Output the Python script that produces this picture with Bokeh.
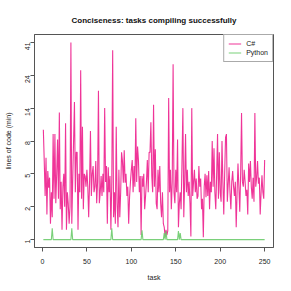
import math
import numpy as np
from bokeh.plotting import figure
from bokeh.models import FixedTicker, Range1d, Legend
from bokeh.embed import file_html
from bokeh.resources import INLINE

# ---- data ----
tick_labels = [1, 2, 5, 8, 14, 24, 41]
x_ticks = [0, 50, 100, 150, 200, 250]

csharp = [
    9.7, 6, 2.7, 6.3, 1.7, 5.2, 3.4, 4.5, 1.4, 3,
    1.6, 9, 2.5, 9, 2.2, 5, 8.2, 2.5, 13, 1.9,
    4, 1.23, 3.5, 5, 2, 10.8, 1.23, 3, 2.2, 1.4,
    2, 41, 1.4, 4, 8, 15.5, 3, 6.8, 6.8, 1.23,
    5, 3, 26, 2.5, 10.2, 1.9, 5, 4.7, 3.5, 5.3,
    3.5, 1.6, 4, 9.5, 2.7, 5, 5.6, 3, 3.5, 6,
    2.2, 4, 18.6, 2.2, 3, 4.7, 2.7, 5, 3, 14,
    4, 5.6, 1.4, 5.5, 3, 4.7, 1.23, 4, 36, 1.6,
    3, 1.4, 10.2, 2.2, 1.3, 5.3, 1.6, 3, 6.8, 6,
    3.9, 7, 3.9, 5, 2.7, 3.5, 1.4, 2.6, 4, 5.3,
    6.1, 3, 5.6, 3.5, 11.8, 4, 7.4, 6.1, 3, 4.7,
    1.1, 4.7, 3.5, 5, 1.9, 2.7, 4, 6.1, 3, 6.8,
    6.8, 11, 4.7, 3, 14.8, 3.5, 7.1, 2.2, 1.9, 5.3,
    3, 5.6, 2.2, 1.6, 3, 1.4, 1.3, 1.07, 1.23, 1.1,
    1.2, 16.5, 3, 5.3, 1.9, 4, 28.7, 3, 2.2, 5.3,
    3, 8.2, 1.3, 2.2, 3, 1.9, 6, 14, 1.6, 4,
    9, 3, 5.3, 2.7, 4, 2.2, 1.07, 14, 2.7, 4,
    5.3, 3, 4.4, 2.5, 2.7, 5.6, 3.5, 4.4, 1.9, 2.5,
    1.05, 3.5, 5, 2.6, 4.8, 2.7, 5.2, 1.9, 4, 3,
    8, 3.5, 7.2, 3, 1.9, 5, 9, 2.5, 6.8, 3,
    2.3, 8, 4, 1.7, 5, 8.5, 9, 2.3, 3.8, 5.5,
    3, 1.9, 4, 5.2, 3.5, 2.7, 4, 1.3, 3, 5.8,
    3.5, 1.8, 5, 12.9, 4, 3.5, 5.3, 4, 2.7, 3.2,
    1.7, 5.8, 4, 6, 3.5, 2.5, 4.5, 2.3, 12.9, 3.5,
    4.5, 6, 3.8, 4.5, 1.7, 3, 4.8, 3, 2.5, 6.1,
]

python_spikes = {11: 1.27, 33: 1.27, 78: 1.27, 112: 1.22, 137: 1.15,
                 139: 1.2, 153: 1.2, 155: 1.15}
tasks = list(range(1, len(csharp) + 1))
python = [python_spikes.get(t, 1.0) for t in tasks]

# ---- axis scale: tick labels are evenly spaced on the axis ----
log_ticks = np.log(tick_labels)
tick_pos = np.arange(len(tick_labels))


def to_axis(vals):
    return np.interp(np.log(vals), log_ticks, tick_pos)


FONT = "Liberation Sans"
AX = "#555555"

n = len(tasks)
pad_x = 0.04 * (n - 1)
pad_y = 0.04 * (len(tick_labels) - 1)

p = figure(
    width=283, height=283,
    output_backend="svg", toolbar_location=None,
    x_range=Range1d(1 - pad_x, n + pad_x),
    y_range=Range1d(-pad_y, len(tick_labels) - 1 + pad_y),
    min_border_left=34, min_border_right=10,
    min_border_top=34, min_border_bottom=35,
)
p.title.text = "Conciseness: tasks compiling successfully"
p.title.align = "center"
p.title.text_font = FONT
p.title.text_font_size = "8px"
p.title.text_font_style = "bold"
p.title.text_color = "#111111"
p.title.standoff = 20

p.grid.visible = False
p.outline_line_color = AX
p.outline_line_width = 1
p.outline_line_alpha = 1
p.background_fill_color = "white"
p.border_fill_color = "white"

r1 = p.line(tasks, to_axis(csharp), line_color="#EC1286", line_width=1.1, line_alpha=0.85)
r2 = p.line(tasks, to_axis(python), line_color="#6CCB6C", line_width=1.1, line_alpha=0.9)

legend = Legend(items=[("C#", [r1]), ("Python", [r2])], location="top_right")
legend.margin = 0
legend.padding = 4
legend.spacing = 0
legend.glyph_width = 13
legend.glyph_height = 9
legend.label_standoff = 5
legend.label_text_font = FONT
legend.label_text_font_size = "7px"
legend.label_text_color = "#222222"
legend.border_line_color = AX
legend.border_line_width = 1
legend.background_fill_alpha = 1
legend.label_height = 9
p.add_layout(legend)

p.xaxis.ticker = FixedTicker(ticks=x_ticks)
p.yaxis.ticker = FixedTicker(ticks=list(tick_pos))
p.yaxis.major_label_overrides = {int(i): str(v) for i, v in zip(tick_pos, tick_labels)}
p.yaxis.major_label_orientation = math.pi / 2

for ax in (p.xaxis[0], p.yaxis[0]):
    ax.axis_line_color = AX
    ax.major_tick_line_color = AX
    ax.minor_tick_line_color = None
    ax.major_tick_in = 0
    ax.major_tick_out = 4
    ax.major_label_text_font = FONT
    ax.major_label_text_font_size = "7px"
    ax.major_label_text_color = "#222222"
    ax.axis_label_text_font = FONT
    ax.axis_label_text_font_size = "7px"
    ax.axis_label_text_font_style = "normal"
    ax.axis_label_text_color = "#222222"

p.xaxis.axis_label = "task"
p.xaxis.major_label_standoff = 7
p.xaxis.axis_label_standoff = 7
p.yaxis.axis_label = "lines of code (min)"
p.yaxis.major_label_standoff = 3
p.yaxis.axis_label_standoff = 8

open("out.html", "w").write(file_html(p, INLINE))
